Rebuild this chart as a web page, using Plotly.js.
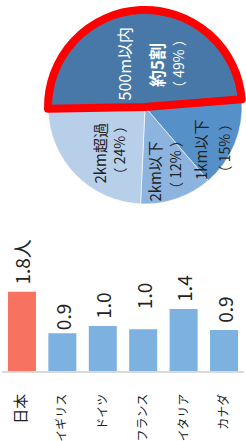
<!DOCTYPE html>
<html>
<head>
<meta charset="utf-8">
<script src="https://cdn.plot.ly/plotly-3.0.1.min.js"></script>
<style>
html,body{margin:0;padding:0;background:#fff;}
#chart{width:246px;height:441px;}
</style>
</head>
<body>
<div id="chart"></div>
<script>
// ---- data ----
var pieLabels = ["1km以下", "2km以下", "2km超過", "500m以内"];
var pieValues = [15, 12, 24, 49];
var pieColors = ["#5591C8", "#8DB4DE", "#B8CFEA", "#4878A8"];

var countries = ["日本", "イギリス", "ドイツ", "フランス", "イタリア", "カナダ"];
var countryTicks = ["<span style='font-size:15px'>日本</span>", "イギリス", "ドイツ", "フランス", "イタリア", "カナダ"];
var values = [1.80, 0.86, 1.02, 0.95, 1.41, 0.93];
var valueLabels = ["\u00a01.8人", "0.9", "\u00a01.0", "\u00a0\u00a0\u00a0\u00a01.0", "\u00a01.4", "\u00a00.9"];
var barColors = ["#F8735F", "#7DB1E0", "#7DB1E0", "#7DB1E0", "#7DB1E0", "#7DB1E0"];

// pie text labels: [text, x px, y px, color, size]
var pieText = [
  ["500m以内", 123.5, 64, "#FFFFFF", 16],
  ["<b>約5割</b>", 156, 65, "#FFFFFF", 17],
  ["（ 49% ）", 178, 64, "#FFFFFF", 14],
  ["2km超過", 98.5, 153, "#222222", 15],
  ["（ 24% ）", 118.5, 150, "#222222", 14],
  ["2km以下", 153.5, 171, "#222222", 15],
  ["（ 12% ）", 175, 165, "#222222", 14],
  ["1km以下", 200, 150, "#222222", 15],
  ["（ 15% ）", 223.5, 148, "#222222", 14]
];

var W = 246, H = 441;
var FONT = "Noto Sans CJK JP, Noto Sans, sans-serif";

var pie = {
  type: "pie",
  labels: pieLabels,
  values: pieValues,
  sort: false,
  direction: "clockwise",
  rotation: 85.4,
  textinfo: "none",
  hoverinfo: "none",
  marker: {
    colors: pieColors,
    line: {color: ["rgba(255,255,255,0.6)", "rgba(255,255,255,0.6)", "rgba(255,255,255,0.6)", "#FF0000"], width: [1, 1, 1, 8]}
  },
  domain: {x: [48 / W, 242 / W], y: [(H - 204) / H, (H - 10) / H]},
  showlegend: false
};

var bar = {
  type: "bar",
  x: countries,
  y: values,
  text: valueLabels,
  textposition: "outside",
  textangle: -90,
  constraintext: "none",
  cliponaxis: false,
  textfont: {family: FONT, size: 19, color: "#222222"},
  marker: {color: barColors},
  hoverinfo: "none",
  xaxis: "x",
  yaxis: "y",
  showlegend: false
};

var annotations = pieText.map(function (t) {
  return {
    xref: "paper", yref: "paper",
    x: t[1] / W, y: (H - t[2]) / H,
    text: t[0], showarrow: false, textangle: -90,
    xanchor: "center", yanchor: "middle",
    font: {family: FONT, size: t[4], color: t[3]}
  };
});

var layout = {
  width: W, height: H,
  margin: {l: 0, r: 0, t: 0, b: 0},
  paper_bgcolor: "#FFFFFF",
  plot_bgcolor: "rgba(0,0,0,0)",
  font: {family: FONT, color: "#222222"},
  bargap: 0.307,
  xaxis: {
    domain: [1.75 / W, 244.25 / W],
    tickmode: "array",
    tickvals: countries,
    ticktext: countryTicks,
    tickangle: -90,
    tickfont: {family: FONT, size: 12, color: "#222222"},
    ticks: "",
    ticklabelstandoff: 16,
    showline: true,
    linecolor: "#D9D9D9",
    linewidth: 2,
    showgrid: false,
    zeroline: false,
    anchor: "y"
  },
  yaxis: {
    domain: [(H - 371) / H, (H - 226) / H],
    range: [0, 3.295],
    visible: false,
    showgrid: false,
    zeroline: false
  },
  annotations: annotations
};

Plotly.newPlot("chart", [pie, bar], layout, {displayModeBar: false, staticPlot: true});
</script>
</body>
</html>
